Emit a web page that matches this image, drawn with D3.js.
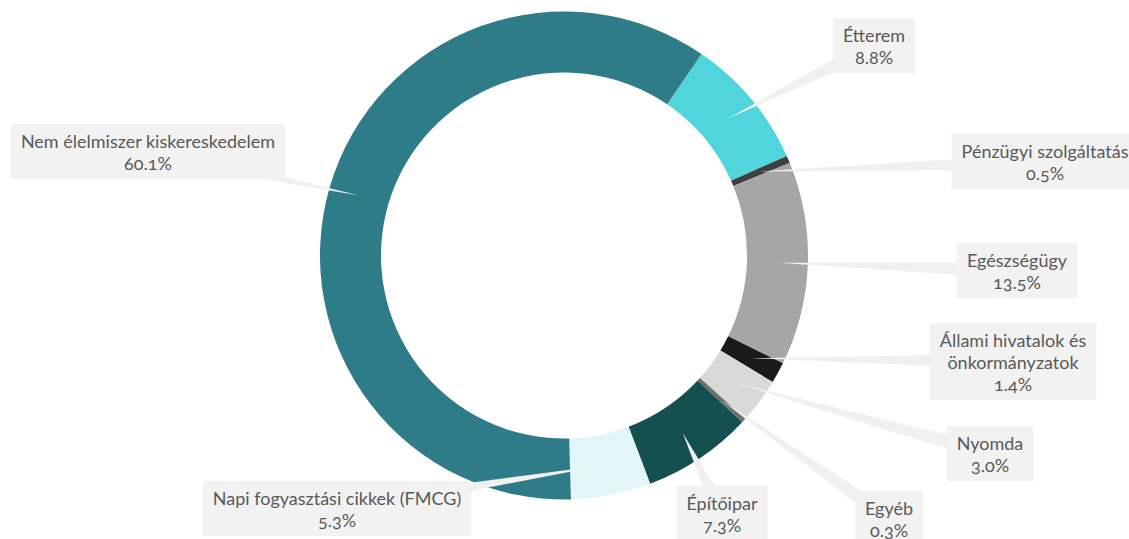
<!DOCTYPE html>
<html>
<head>
<meta charset="utf-8">
<script src="https://cdn.jsdelivr.net/npm/d3@7"></script>
<style>
  body { margin: 0; background: #fff; }
  svg { display: block; }
  text { font-family: Lato, "Open Sans", sans-serif; font-feature-settings: "onum"; }
</style>
</head>
<body>
<script>
// data
var categories = ["Étterem", "Pénzügyi szolgáltatás", "Egészségügy", "Állami hivatalok és önkormányzatok",
  "Nyomda", "Egyéb", "Építőipar", "Napi fogyasztási cikkek (FMCG)", "Nem élelmiszer kiskereskedelem"];
var values = [8.8, 0.5, 13.5, 1.4, 3.0, 0.3, 7.3, 5.3, 60.1];

// styles / layout
var colors = ["#50d5dc", "#3f3f3f", "#a6a6a6", "#1a1a1a", "#d9d9d9", "#6f6f6f", "#14504f", "#e2f6f8", "#2e7c87"];
// label box: center x, top y, text lines
var labelPos = [
  {cx: 874, top: 18, lines: ["Étterem"]},
  {cx: 1045, top: 134, lines: ["Pénzügyi szolgáltatás"]},
  {cx: 1017, top: 243, lines: ["Egészségügy"]},
  {cx: 1013, top: 323, lines: ["Állami hivatalok és", "önkormányzatok"]},
  {cx: 990, top: 426, lines: ["Nyomda"]},
  {cx: 889, top: 491, lines: ["Egyéb"]},
  {cx: 722, top: 486, lines: ["Építőipar"]},
  {cx: 337, top: 481, lines: ["Napi fogyasztási cikkek (FMCG)"]},
  {cx: 148, top: 124, lines: ["Nem élelmiszer kiskereskedelem"]}
];

var width = 1129, height = 539;
var cx = 564, cy = 255.5, rOuter = 244, rInner = 183;
var start = 34.3 * Math.PI / 180;

var svg = d3.select("body").append("svg")
    .attr("width", width)
    .attr("height", height);

var data = categories.map(function(c, i) { return {name: c, value: values[i], i: i}; });

var pie = d3.pie().sort(null).value(function(d) { return d.value; })
    .startAngle(start).endAngle(start + 2 * Math.PI);
var arc = d3.arc().innerRadius(rInner).outerRadius(rOuter);
var arcs = pie(data);

var g = svg.append("g").attr("transform", "translate(" + cx + "," + cy + ")");

g.selectAll("path.slice")
  .data(arcs)
  .enter().append("path")
  .attr("class", "slice")
  .attr("d", arc)
  .attr("fill", function(d) { return colors[d.data.i]; });

var rMid = (rInner + rOuter) / 2;
var lineH = 22;

// wedge connectors
arcs.forEach(function(d) {
  var lp = labelPos[d.data.i];
  var a = (d.startAngle + d.endAngle) / 2;
  var tx = cx + rMid * Math.sin(a), ty = cy - rMid * Math.cos(a);
  var boxH = 24 + lp.lines.length * lineH + 9;
  var bx = lp.cx, by = lp.top + boxH / 2;
  var dx = bx - tx, dy = by - ty, len = Math.sqrt(dx * dx + dy * dy);
  var nx = -dy / len, ny = dx / len, w = 8;
  svg.append("path")
    .attr("d", "M" + tx + "," + ty + "L" + (bx + nx * w) + "," + (by + ny * w) + "L" + (bx - nx * w) + "," + (by - ny * w) + "Z")
    .attr("fill", "#f0f0f0");
});

// label boxes
arcs.forEach(function(d) {
  var lp = labelPos[d.data.i];
  var lines = lp.lines.concat([d3.format(".1f")(d.data.value) + "%"]);
  var lg = svg.append("g");
  var t = lg.append("text")
    .attr("text-anchor", "middle")
    .attr("fill", "#595959")
    .style("font-size", "18px");
  lines.forEach(function(l, k) {
    t.append("tspan").attr("x", lp.cx).attr("y", lp.top + 24 + k * lineH).text(l);
  });
  var w = t.node().getBBox().width + 20;
  var h = 24 + (lines.length - 1) * lineH + 9;
  lg.insert("rect", "text")
    .attr("x", lp.cx - w / 2).attr("y", lp.top)
    .attr("width", w).attr("height", h)
    .attr("fill", "#f2f2f2");
});
</script>
</body>
</html>
